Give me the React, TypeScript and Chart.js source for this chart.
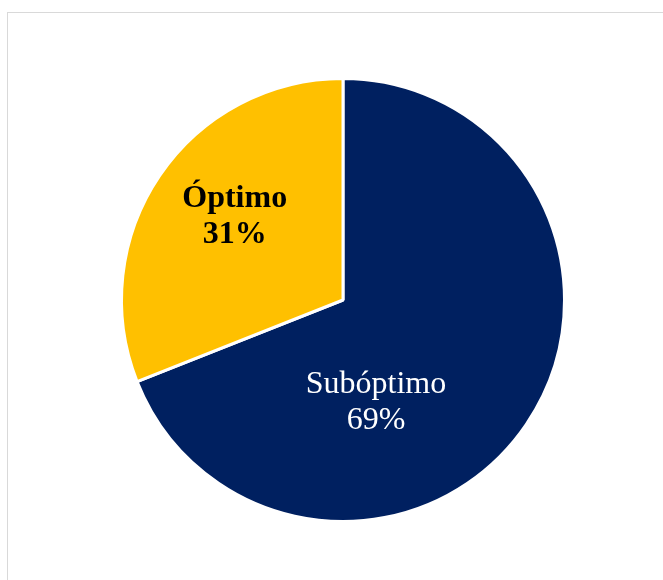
import React, { useEffect, useRef } from "react";
import { Chart, registerables } from "chart.js";

Chart.register(...registerables);

const categories = ["Subóptimo", "Óptimo"];
const values = [69, 31];
const percentLabels = ["69%", "31%"];
const sliceColors = ["#002060", "#FFC000"];
const labelColors = ["#FFFFFF", "#000000"];
const labelWeights = ["normal", "bold"];
// label anchor offsets relative to pie centre, in units of the radius (first-line baseline)
const labelOffsetX = [0.149, -0.489];
const labelOffsetY = [0.421, -0.421];

const labelPlugin = {
  id: "pieLabels",
  afterDatasetsDraw(chart: any) {
    const meta = chart.getDatasetMeta(0);
    const ctx = chart.ctx;
    meta.data.forEach((arc: any, i: number) => {
      const { x, y, outerRadius } = arc.getProps(["x", "y", "outerRadius"], true);
      const ax = x + labelOffsetX[i] * outerRadius;
      const ay = y + labelOffsetY[i] * outerRadius;
      ctx.save();
      ctx.fillStyle = labelColors[i];
      ctx.font = `${labelWeights[i]} 32px "Liberation Serif", "Times New Roman", serif`;
      ctx.textAlign = "center";
      ctx.textBaseline = "alphabetic";
      ctx.fillText(categories[i], ax, ay);
      ctx.fillText(percentLabels[i], ax, ay + 36);
      ctx.restore();
    });
  },
};

export default function App() {
  const canvasRef = useRef<HTMLCanvasElement | null>(null);

  useEffect(() => {
    if (!canvasRef.current) return;
    const chart = new Chart(canvasRef.current, {
      type: "pie",
      data: {
        labels: categories,
        datasets: [
          {
            data: values,
            backgroundColor: sliceColors,
            borderColor: "#FFFFFF",
            borderWidth: 3,
          },
        ],
      },
      options: {
        responsive: false,
        animation: false,
        layout: { padding: { left: 120, right: 97, top: 77, bottom: 57 } },
        plugins: {
          legend: { display: false },
          tooltip: { enabled: false },
        },
      },
      plugins: [labelPlugin],
    });
    return () => chart.destroy();
  }, []);

  return (
    <div
      style={{
        position: "fixed",
        left: 0,
        top: 0,
        width: 663,
        height: 580,
        overflow: "hidden",
        background: "#FFFFFF",
      }}
    >
      <div
        style={{
          position: "absolute",
          left: 7,
          top: 12,
          width: 720,
          height: 640,
          border: "1px solid #D9D9D9",
          boxSizing: "border-box",
        }}
      />
      <canvas
        ref={canvasRef}
        width={663}
        height={580}
        style={{ position: "absolute", left: 0, top: 0, width: 663, height: 580 }}
      />
    </div>
  );
}
